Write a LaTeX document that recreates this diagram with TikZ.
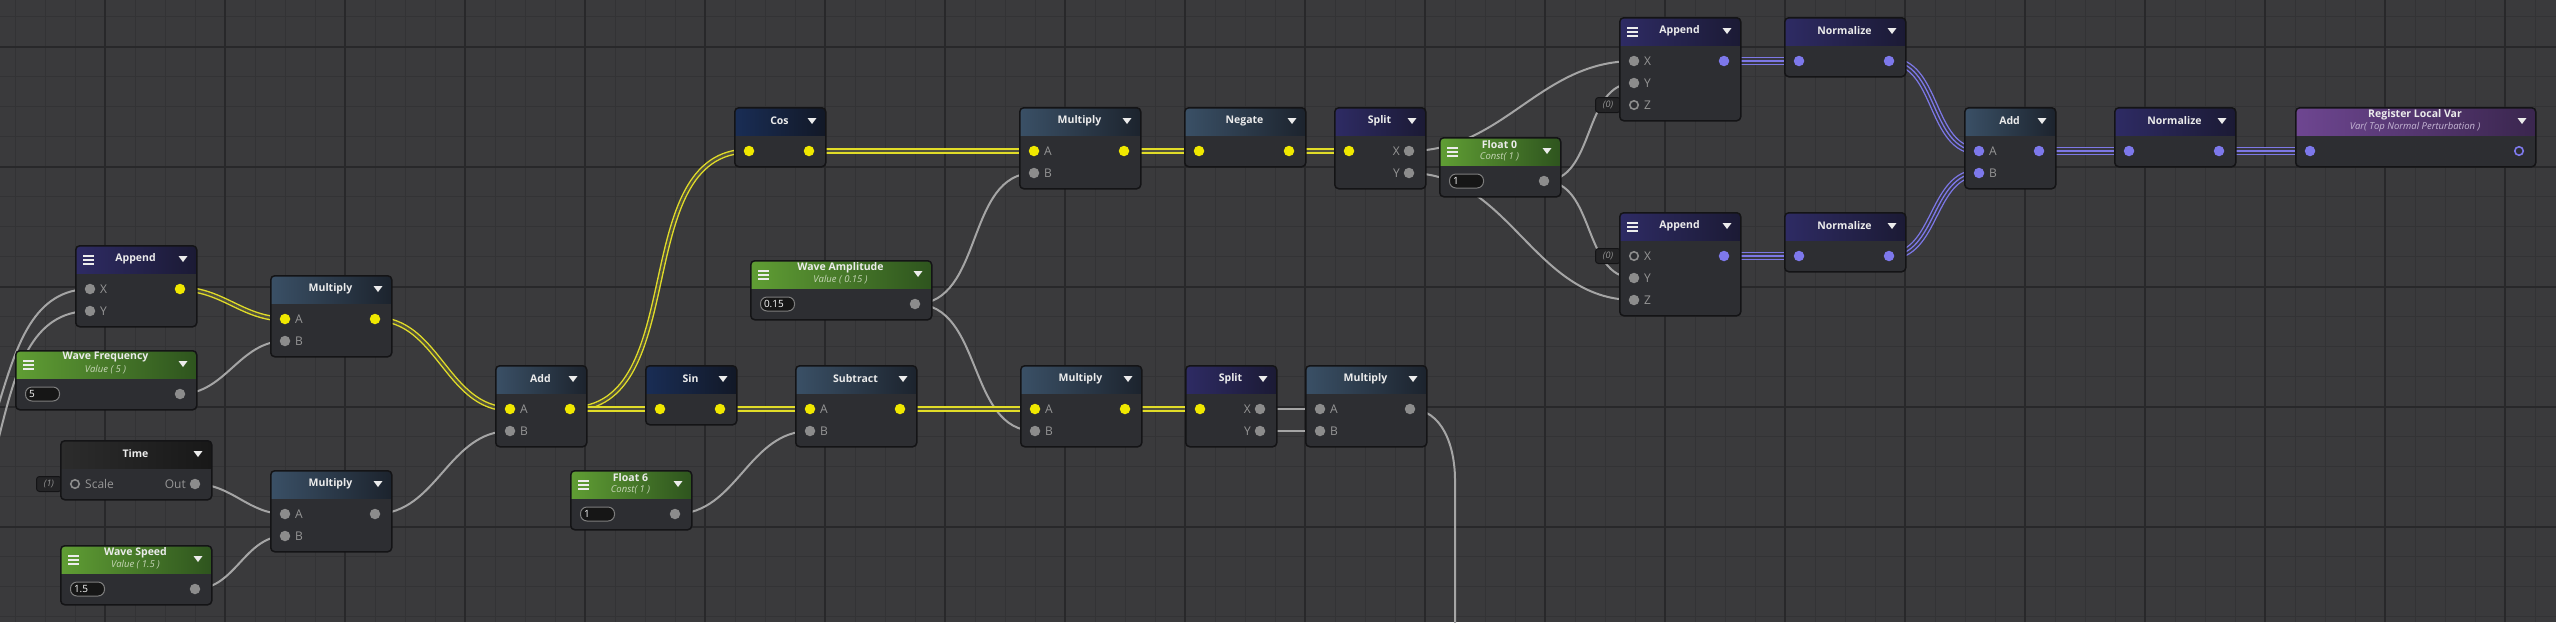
\documentclass[tikz,border=0pt]{standalone}
\usepackage{fontspec}
\setmainfont{Open Sans}
\usetikzlibrary{calc}
\pgfdeclarelayer{grid}
\pgfdeclarelayer{wires}
\pgfsetlayers{grid,wires,main}

\definecolor{canvas}{RGB}{58,58,60}
\definecolor{minorline}{RGB}{51,51,53}
\definecolor{majorline}{RGB}{40,40,42}
\definecolor{nodebody}{RGB}{45,46,50}
\definecolor{nodeedge}{RGB}{20,20,22}
\definecolor{purpL}{RGB}{46,43,100}
\definecolor{purpR}{RGB}{27,26,52}
\definecolor{slateL}{RGB}{58,80,102}
\definecolor{slateR}{RGB}{28,35,45}
\definecolor{navyL}{RGB}{25,45,85}
\definecolor{navyR}{RGB}{18,24,38}
\definecolor{timeL}{RGB}{44,44,44}
\definecolor{timeR}{RGB}{24,24,24}
\definecolor{greenL}{RGB}{96,158,52}
\definecolor{greenR}{RGB}{46,84,30}
\definecolor{violL}{RGB}{110,70,145}
\definecolor{violR}{RGB}{58,38,78}
\definecolor{titlewhite}{RGB}{236,236,236}
\definecolor{portgray}{RGB}{150,150,150}
\definecolor{dotgray}{RGB}{140,140,140}
\definecolor{dotyellow}{RGB}{240,232,0}
\definecolor{dotpurple}{RGB}{125,120,235}
\definecolor{wiregray}{RGB}{165,165,165}
\definecolor{wireyellow}{RGB}{225,220,40}
\definecolor{wirepurple}{RGB}{125,120,230}
\definecolor{ygap}{RGB}{82,82,62}
\definecolor{pgap}{RGB}{56,56,66}
\definecolor{greensub}{RGB}{200,215,185}
\definecolor{violsub}{RGB}{200,185,215}
\definecolor{fieldfill}{RGB}{22,22,22}
\definecolor{fieldedge}{RGB}{125,125,125}
\definecolor{tagfill}{RGB}{36,36,38}

\begin{document}
\begin{tikzpicture}[%
x=1pt, y=-1pt,
box/.style={draw=nodeedge, line width=1.5pt, fill=nodebody, rounded corners=4pt, inner sep=0pt, anchor=north west},
header/.style 2 args={path picture={\shade[sharp corners, left color=#1, right color=#2] (path picture bounding box.north west) rectangle ([yshift=-28pt]path picture bounding box.north east);}},
purphead/.style={header={purpL}{purpR}},
slatehead/.style={header={slateL}{slateR}},
navyhead/.style={header={navyL}{navyR}},
timehead/.style={header={timeL}{timeR}},
greenhead/.style={header={greenL}{greenR}},
violhead/.style={header={violL}{violR}},
w91/.style={minimum width=91pt}, w121/.style={minimum width=121pt},
w151/.style={minimum width=151pt}, w181/.style={minimum width=181pt},
w240/.style={minimum width=240pt},
rows1/.style={minimum height=59pt}, rows2/.style={minimum height=81pt},
rows3/.style={minimum height=103pt},
title/.style={text=titlewhite, font=\bfseries\fontsize{10.5}{12}\selectfont, inner sep=0pt},
subtitle/.style={text=#1, font=\itshape\fontsize{9.5}{11}\selectfont, inner sep=0pt},
plabel/.style={text=portgray, font=\fontsize{12}{14}\selectfont, inner sep=0pt, anchor=west},
rlabel/.style={plabel, anchor=east},
gdot/.style={circle, fill=dotgray, inner sep=0pt, minimum size=10.5pt},
ydot/.style={gdot, fill=dotyellow},
pdot/.style={gdot, fill=dotpurple},
gring/.style={circle, draw=dotgray, line width=1.6pt, inner sep=0pt, minimum size=8.5pt},
pring/.style={gring, draw=dotpurple},
field/.style={draw=fieldedge, fill=fieldfill, line width=1pt, rounded corners=6.5pt, anchor=west, minimum height=14pt, text width=27pt, inner xsep=3.5pt, inner ysep=0pt, align=left, text=white, font=\fontsize{10}{12}\selectfont},
tag/.style={draw=nodeedge, fill=tagfill, line width=1pt, rounded corners=3pt, anchor=east, minimum width=25pt, minimum height=15pt, inner sep=0pt, text=portgray, font=\itshape\fontsize{9}{10}\selectfont},
fwire/.style={draw=wiregray, line width=2pt},
ywire/.style={draw=wireyellow, double=ygap, double distance=2.4pt, line width=1.4pt},
pwire/.style={preaction={draw=wirepurple, line width=8pt}, draw=pgap, double=wirepurple, double distance=1.3pt, line width=2pt},
]
\useasboundingbox (0,0) rectangle (2556,622);
\begin{pgfonlayer}{grid}
\fill[canvas] (0,0) rectangle (2556,622);
\foreach \gx in {15,45,...,2555} \draw[minorline, line width=1pt] (\gx,0) -- (\gx,622);
\foreach \gy in {16.7,46.7,...,616.7} \draw[minorline, line width=1pt] (0,\gy) -- (2556,\gy);
\foreach \gx in {105,225,...,2505} \draw[majorline, line width=2pt] (\gx,0) -- (\gx,622);
\foreach \gy in {46.7,166.7,...,526.7} \draw[majorline, line width=2pt] (0,\gy) -- (2556,\gy);
\end{pgfonlayer}

%% node: Append;
\node[box, purphead, w121, rows2] (appL) at (75,245) {};
\node[title] (appL-t) at (135.5,259) {Append};
\node[gdot] (appL-x) at (90,289) {};
\node[plabel] (appL-xl) at (100,289) {X};
\node[gdot] (appL-y) at (90,311) {};
\node[plabel] (appL-yl) at (100,311) {Y};
\node[ydot] (appL-o) at (180,289) {};

%% node: Multiply;
\node[box, slatehead, w121, rows2] (mA) at (270,275) {};
\node[title] (mA-t) at (330.5,289) {Multiply};
\node[ydot] (mA-a) at (285,319) {};
\node[plabel] (mA-al) at (295,319) {A};
\node[gdot] (mA-b) at (285,341) {};
\node[plabel] (mA-bl) at (295,341) {B};
\node[ydot] (mA-o) at (375,319) {};

%% node: Wave Frequency;
\node[box, greenhead, w181, rows1] (wf) at (15,350) {};
\node[title] (wf-t) at (105.5,357.5) {Wave Frequency};
\node[subtitle=greensub] (wf-s) at (105.5,370) {Value ( 5 )};
\node[field] (wf-f) at (25,394) {5};
\node[gdot] (wf-o) at (180,394) {};

%% node: Time;
\node[tag] (tm-g) at (62,484) {(1)};
\node[box, timehead, w151, rows1] (tm) at (60,440) {};
\node[title] (tm-t) at (135.5,454) {Time};
\node[gring] (tm-s) at (75,484) {};
\node[plabel] (tm-sl) at (85,484) {Scale};
\node[rlabel] (tm-ol) at (186,484) {Out};
\node[gdot] (tm-o) at (195,484) {};

%% node: Multiply;
\node[box, slatehead, w121, rows2] (mB) at (270,470) {};
\node[title] (mB-t) at (330.5,484) {Multiply};
\node[gdot] (mB-a) at (285,514) {};
\node[plabel] (mB-al) at (295,514) {A};
\node[gdot] (mB-b) at (285,536) {};
\node[plabel] (mB-bl) at (295,536) {B};
\node[gdot] (mB-o) at (375,514) {};

%% node: Wave Speed;
\node[box, greenhead, w151, rows1] (ws) at (60,545) {};
\node[title] (ws-t) at (135.5,552.5) {Wave Speed};
\node[subtitle=greensub] (ws-s) at (135.5,565) {Value ( 1.5 )};
\node[field] (ws-f) at (70,589) {1.5};
\node[gdot] (ws-o) at (195,589) {};

%% node: Add;
\node[box, slatehead, w91, rows2] (ad1) at (495,365) {};
\node[title] (ad1-t) at (540.5,379) {Add};
\node[ydot] (ad1-a) at (510,409) {};
\node[plabel] (ad1-al) at (520,409) {A};
\node[gdot] (ad1-b) at (510,431) {};
\node[plabel] (ad1-bl) at (520,431) {B};
\node[ydot] (ad1-o) at (570,409) {};

%% node: Cos;
\node[box, navyhead, w91, rows1] (cs) at (734,107) {};
\node[title] (cs-t) at (779.5,121) {Cos};
\node[ydot] (cs-i) at (749,151) {};
\node[ydot] (cs-o) at (809,151) {};

%% node: Wave Amplitude;
\node[box, greenhead, w181, rows1] (wa) at (750,260) {};
\node[title] (wa-t) at (840.5,267.5) {Wave Amplitude};
\node[subtitle=greensub] (wa-s) at (840.5,280) {Value ( 0.15 )};
\node[field] (wa-f) at (760,304) {0.15};
\node[gdot] (wa-o) at (915,304) {};

%% node: Sin;
\node[box, navyhead, w91, rows1] (sn) at (645,365) {};
\node[title] (sn-t) at (690.5,379) {Sin};
\node[ydot] (sn-i) at (660,409) {};
\node[ydot] (sn-o) at (720,409) {};

%% node: Subtract;
\node[box, slatehead, w121, rows2] (sb) at (795,365) {};
\node[title] (sb-t) at (855.5,379) {Subtract};
\node[ydot] (sb-a) at (810,409) {};
\node[plabel] (sb-al) at (820,409) {A};
\node[gdot] (sb-b) at (810,431) {};
\node[plabel] (sb-bl) at (820,431) {B};
\node[ydot] (sb-o) at (900,409) {};

%% node: Float 6;
\node[box, greenhead, w121, rows1] (f6) at (570,470) {};
\node[title] (f6-t) at (630.5,477.5) {Float 6};
\node[subtitle=greensub] (f6-s) at (630.5,490) {Const( 1 )};
\node[field] (f6-f) at (580,514) {1};
\node[gdot] (f6-o) at (675,514) {};

%% node: Multiply;
\node[box, slatehead, w121, rows2] (mC) at (1019,107) {};
\node[title] (mC-t) at (1079.5,121) {Multiply};
\node[ydot] (mC-a) at (1034,151) {};
\node[plabel] (mC-al) at (1044,151) {A};
\node[gdot] (mC-b) at (1034,173) {};
\node[plabel] (mC-bl) at (1044,173) {B};
\node[ydot] (mC-o) at (1124,151) {};

%% node: Negate;
\node[box, slatehead, w121, rows1] (ng) at (1184,107) {};
\node[title] (ng-t) at (1244.5,121) {Negate};
\node[ydot] (ng-i) at (1199,151) {};
\node[ydot] (ng-o) at (1289,151) {};

%% node: Split;
\node[box, purphead, w91, rows2] (sp1) at (1334,107) {};
\node[title] (sp1-t) at (1379.5,121) {Split};
\node[ydot] (sp1-i) at (1349,151) {};
\node[rlabel] (sp1-xl) at (1400,151) {X};
\node[gdot] (sp1-x) at (1409,151) {};
\node[rlabel] (sp1-yl) at (1400,173) {Y};
\node[gdot] (sp1-y) at (1409,173) {};

%% node: Float 0;
\node[box, greenhead, w121, rows1] (f0) at (1439,137) {};
\node[title] (f0-t) at (1499.5,144.5) {Float 0};
\node[subtitle=greensub] (f0-s) at (1499.5,157) {Const( 1 )};
\node[field] (f0-f) at (1449,181) {1};
\node[gdot] (f0-o) at (1544,181) {};

%% node: Multiply;
\node[box, slatehead, w121, rows2] (mD) at (1020,365) {};
\node[title] (mD-t) at (1080.5,379) {Multiply};
\node[ydot] (mD-a) at (1035,409) {};
\node[plabel] (mD-al) at (1045,409) {A};
\node[gdot] (mD-b) at (1035,431) {};
\node[plabel] (mD-bl) at (1045,431) {B};
\node[ydot] (mD-o) at (1125,409) {};

%% node: Split;
\node[box, purphead, w91, rows2] (sp2) at (1185,365) {};
\node[title] (sp2-t) at (1230.5,379) {Split};
\node[ydot] (sp2-i) at (1200,409) {};
\node[rlabel] (sp2-xl) at (1251,409) {X};
\node[gdot] (sp2-x) at (1260,409) {};
\node[rlabel] (sp2-yl) at (1251,431) {Y};
\node[gdot] (sp2-y) at (1260,431) {};

%% node: Multiply;
\node[box, slatehead, w121, rows2] (mE) at (1305,365) {};
\node[title] (mE-t) at (1365.5,379) {Multiply};
\node[gdot] (mE-a) at (1320,409) {};
\node[plabel] (mE-al) at (1330,409) {A};
\node[gdot] (mE-b) at (1320,431) {};
\node[plabel] (mE-bl) at (1330,431) {B};
\node[gdot] (mE-o) at (1410,409) {};

%% node: Append;
\node[tag] (apT-g) at (1621,105) {(0)};
\node[box, purphead, w121, rows3] (apT) at (1619,17) {};
\node[title] (apT-t) at (1679.5,31) {Append};
\node[gdot] (apT-x) at (1634,61) {};
\node[plabel] (apT-xl) at (1644,61) {X};
\node[gdot] (apT-y) at (1634,83) {};
\node[plabel] (apT-yl) at (1644,83) {Y};
\node[gring] (apT-z) at (1634,105) {};
\node[plabel] (apT-zl) at (1644,105) {Z};
\node[pdot] (apT-o) at (1724,61) {};

%% node: Normalize;
\node[box, purphead, w121, rows1] (nT) at (1784,17) {};
\node[title] (nT-t) at (1844.5,31) {Normalize};
\node[pdot] (nT-i) at (1799,61) {};
\node[pdot] (nT-o) at (1889,61) {};

%% node: Append;
\node[tag] (apB-g) at (1621,256) {(0)};
\node[box, purphead, w121, rows3] (apB) at (1619,212) {};
\node[title] (apB-t) at (1679.5,226) {Append};
\node[gring] (apB-x) at (1634,256) {};
\node[plabel] (apB-xl) at (1644,256) {X};
\node[gdot] (apB-y) at (1634,278) {};
\node[plabel] (apB-yl) at (1644,278) {Y};
\node[gdot] (apB-z) at (1634,300) {};
\node[plabel] (apB-zl) at (1644,300) {Z};
\node[pdot] (apB-o) at (1724,256) {};

%% node: Normalize;
\node[box, purphead, w121, rows1] (nB) at (1784,212) {};
\node[title] (nB-t) at (1844.5,226) {Normalize};
\node[pdot] (nB-i) at (1799,256) {};
\node[pdot] (nB-o) at (1889,256) {};

%% node: Add;
\node[box, slatehead, w91, rows2] (ad2) at (1964,107) {};
\node[title] (ad2-t) at (2009.5,121) {Add};
\node[pdot] (ad2-a) at (1979,151) {};
\node[plabel] (ad2-al) at (1989,151) {A};
\node[pdot] (ad2-b) at (1979,173) {};
\node[plabel] (ad2-bl) at (1989,173) {B};
\node[pdot] (ad2-o) at (2039,151) {};

%% node: Normalize;
\node[box, purphead, w121, rows1] (n3) at (2114,107) {};
\node[title] (n3-t) at (2174.5,121) {Normalize};
\node[pdot] (n3-i) at (2129,151) {};
\node[pdot] (n3-o) at (2219,151) {};

%% node: Register Local Var;
\node[box, violhead, w240, rows1] (rv) at (2295,107) {};
\node[title] (rv-t) at (2415,114.5) {Register Local Var};
\node[subtitle=violsub] (rv-s) at (2415,127) {Var( Top Normal Perturbation )};
\node[pdot] (rv-i) at (2310,151) {};
\node[pring] (rv-o) at (2519,151) {};

%% header icons;
\foreach \r/\t in {196/245, 391/275, 196/350, 211/440, 391/470, 211/545, 586/365,
  825/107, 931/260, 736/365, 916/365, 691/470, 1140/107, 1305/107, 1425/107,
  1560/137, 1141/365, 1276/365, 1426/365, 1740/17, 1905/17, 1740/212, 1905/212,
  2055/107, 2235/107, 2535/107}
  \fill[titlewhite] (\r-17.5,\t+11) -- (\r-8.5,\t+11) -- (\r-13,\t+17) -- cycle;
\foreach \l/\t in {75/245, 15/350, 60/545, 750/260, 570/470, 1439/137, 1619/17, 1619/212}
  \draw[titlewhite, line width=1.4pt] (\l+8,\t+11) -- (\l+19,\t+11)
    (\l+8,\t+15) -- (\l+19,\t+15) (\l+8,\t+19) -- (\l+19,\t+19);

%% free ends;
\coordinate (inX) at (-90,511);
\coordinate (inY) at (-90,555);
\coordinate (bend) at (1455,480);
\coordinate (outDown) at (1455,660);

\begin{pgfonlayer}{wires}
\clip (0,0) rectangle (2556,622);
%% wire: float;
\draw[fwire] (inX) to[out=0,in=180] (appL-x.center);
\draw[fwire] (inY) to[out=0,in=180] (appL-y.center);
\draw[fwire] (wf-o.center) to[out=0,in=180] (mA-b.center);
\draw[fwire] (tm-o.center) to[out=0,in=180] (mB-a.center);
\draw[fwire] (ws-o.center) to[out=0,in=180] (mB-b.center);
\draw[fwire] (mB-o.center) to[out=0,in=180] (ad1-b.center);
\draw[fwire] (wa-o.center) to[out=0,in=180] (mC-b.center);
\draw[fwire] (wa-o.center) to[out=0,in=180] (mD-b.center);
\draw[fwire] (f6-o.center) to[out=0,in=180] (sb-b.center);
\draw[fwire] (sp2-x.center) -- (mE-a.center);
\draw[fwire] (sp2-y.center) -- (mE-b.center);
\draw[fwire] (mE-o.center) to[out=0,in=90] (bend) -- (outDown);
\draw[fwire] (sp1-x.center) to[out=0,in=180] (apT-x.center);
\draw[fwire] (sp1-y.center) to[out=0,in=180] (apB-z.center);
\draw[fwire] (f0-o.center) to[out=0,in=180] (apT-y.center);
\draw[fwire] (f0-o.center) to[out=0,in=180] (apB-y.center);
%% wire: vector2;
\draw[ywire] (appL-o.center) to[out=0,in=180] (mA-a.center);
\draw[ywire] (mA-o.center) to[out=0,in=180] (ad1-a.center);
\draw[ywire] (ad1-o.center) to[out=0,in=180] (cs-i.center);
\draw[ywire] (ad1-o.center) -- (sn-i.center);
\draw[ywire] (cs-o.center) -- (mC-a.center);
\draw[ywire] (sn-o.center) -- (sb-a.center);
\draw[ywire] (sb-o.center) -- (mD-a.center);
\draw[ywire] (mC-o.center) -- (ng-i.center);
\draw[ywire] (ng-o.center) -- (sp1-i.center);
\draw[ywire] (mD-o.center) -- (sp2-i.center);
%% wire: vector3;
\draw[pwire] (apT-o.center) -- (nT-i.center);
\draw[pwire] (apB-o.center) -- (nB-i.center);
\draw[pwire] (nT-o.center) to[out=0,in=180] (ad2-a.center);
\draw[pwire] (nB-o.center) to[out=0,in=180] (ad2-b.center);
\draw[pwire] (ad2-o.center) -- (n3-i.center);
\draw[pwire] (n3-o.center) -- (rv-i.center);
\end{pgfonlayer}
\end{tikzpicture}
\end{document}
